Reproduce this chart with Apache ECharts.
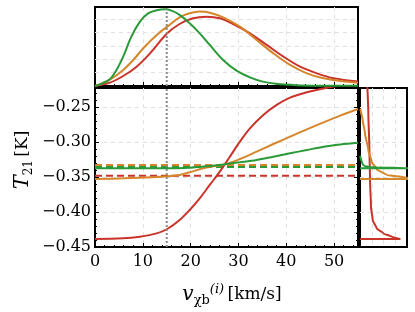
<!DOCTYPE html>
<html><head><meta charset="utf-8">
<script src="https://cdn.jsdelivr.net/npm/echarts@6/dist/echarts.min.js"></script>
<style>html,body{margin:0;padding:0;background:#fff}#c{width:415px;height:312px}</style>
</head><body><div id="c"></div>
<script>
// ---- data ----
const xTickValues = [0, 10, 20, 30, 40, 50];
const yTickLabels = ['−0.45', '−0.40', '−0.35', '−0.30', '−0.25'];
const vLine = 15;
// top panel: distributions (x in km/s, arbitrary height)
const topGreen = [[0,0],[1.5,0.2],[3.1,0.5],[4.5,1.2],[5.9,2.2],[7.6,3.7],[9.4,4.83],[11.1,5.45],[12.9,5.68],[14.6,5.75],[16.0,5.65],[17.7,5.33],[19.8,4.7],[21.9,3.95],[24.0,3.08],[26.8,1.95],[29.6,1.15],[32.4,0.65],[35.1,0.33],[37.9,0.16],[42.1,0.06],[48,0.02],[55,0.01]];
const topOrange = [[0,0],[1.5,0.2],[3.6,0.58],[5.9,1.2],[8.0,1.95],[10.1,2.83],[12.9,3.83],[15.1,4.45],[17.7,5.15],[19.8,5.45],[21.9,5.58],[24.0,5.5],[26.8,5.15],[30.3,4.45],[33.8,3.45],[37.3,2.45],[40.8,1.58],[44.3,0.95],[47.8,0.58],[51.3,0.38],[55,0.25]];
const topRed = [[0,0],[3.1,0.25],[5.9,0.75],[8.7,1.45],[11.5,2.45],[15.1,3.95],[17.7,4.65],[20.5,5.08],[23.3,5.2],[26.1,5.08],[28.9,4.65],[32.4,3.95],[35.9,3.08],[39.4,2.2],[42.9,1.45],[46.4,0.95],[49.9,0.58],[55,0.33]];
// main panel: T21 vs velocity
const mainRed = [[0,-0.4386],[5.9,-0.4376],[9.4,-0.4352],[12.9,-0.4305],[15.1,-0.4243],[17.7,-0.4114],[19.8,-0.3971],[21.9,-0.3805],[24.0,-0.3614],[26.1,-0.3424],[28.2,-0.3210],[30.3,-0.2995],[32.4,-0.2805],[35.2,-0.2614],[38.0,-0.2471],[40.8,-0.2367],[44.3,-0.2290],[47.8,-0.2235],[51.3,-0.2190],[55,-0.2150]];
const mainOrange = [[0,-0.3529],[5.9,-0.3519],[12.9,-0.3500],[15.1,-0.3490],[17.7,-0.3471],[19.8,-0.3433],[22.6,-0.3376],[24.7,-0.3348],[27.2,-0.3319],[30.3,-0.3243],[33.8,-0.3138],[37.3,-0.3029],[40.8,-0.2924],[44.3,-0.2819],[47.8,-0.2719],[51.3,-0.2624],[55,-0.2529]];
const mainGreen = [[0,-0.3376],[5,-0.3376],[10,-0.3376],[15.1,-0.3376],[19.8,-0.3367],[23.3,-0.3348],[26.8,-0.3320],[30.3,-0.3290],[33.8,-0.3257],[37.3,-0.3210],[40.8,-0.3162],[44.3,-0.3114],[47.8,-0.3067],[51.3,-0.3035],[55,-0.3010]];
const dashOrange = -0.3329, dashGreen = -0.3357, dashRed = -0.3481;
// right panel: density (x) vs T21 (y)
const rightRed = [[0,-0.4386],[0.85,-0.4386],[0.674,-0.4353],[0.496,-0.4305],[0.355,-0.4233],[0.27,-0.4114],[0.234,-0.3924],[0.213,-0.3543],[0.199,-0.3067],[0.177,-0.259],[0.156,-0.221]];
const rightOrange = [[0,-0.3529],[1.6,-0.3529],[1.3,-0.3522],[0.99,-0.3510],[0.567,-0.3471],[0.355,-0.3390],[0.248,-0.3281],[0.177,-0.3114],[0.106,-0.2876],[0.057,-0.2686],[0.014,-0.2543],[0,-0.2529]];
const rightGreen = [[0,-0.3376],[1.6,-0.3376],[1.0,-0.3372],[0.4,-0.3365],[0.2,-0.3358],[0.1,-0.3345],[0.06,-0.3320],[0.035,-0.3280],[0.015,-0.3230],[0,-0.3200]];

const C = {green:'#2a9a38', orange:'#d5862a', red:'#c9342a', gray:'#8a8a8a'};
const Y0 = -0.45, Y1 = -0.2229;
const font = 'DejaVu Serif';
const gridLine = {show:true, showMinLine:false, showMaxLine:false, lineStyle:{color:'#e2e2e2', type:[4,4], width:1}};
const tickStyle = {show:true, inside:true, length:4, lineStyle:{color:'#000', width:1}};
const minorStyle = {show:true, splitNumber:5, length:2, lineStyle:{color:'#000', width:1}};

const chart = echarts.init(document.getElementById('c'), null, {renderer:'canvas'});
function line(data, color, xi, yi, extra){
  return Object.assign({type:'line', data, xAxisIndex:xi, yAxisIndex:yi, symbol:'none', smooth:0.35,
    lineStyle:{color, width:2}, z:3, silent:true, animation:false}, extra||{});
}
const option = {
  animation:false,
  backgroundColor:'#fff',
  grid:[
    {left:95, top:7, width:263, height:79, show:true, borderColor:'#000', borderWidth:2, backgroundColor:'#fff'},
    {left:95, top:88, width:263, height:159, show:true, borderColor:'#000', borderWidth:2, backgroundColor:'#fff'},
    {left:360, top:88, width:47, height:159, show:true, borderColor:'#000', borderWidth:2, backgroundColor:'#fff'}
  ],
  xAxis:[
    {gridIndex:0, type:'value', min:0, max:55, interval:10, axisLine:{show:false},
     axisTick:tickStyle, minorTick:minorStyle, axisLabel:{show:false}, splitLine:gridLine},
    {gridIndex:1, type:'value', min:0, max:55, interval:10, axisLine:{show:false},
     axisTick:tickStyle, minorTick:minorStyle,
     axisLabel:{show:true, margin:7, color:'#000', fontFamily:font, fontSize:16, showMaxLabel:false,
       formatter:v => xTickValues.includes(v) ? String(v) : ''},
     splitLine:gridLine},
    {gridIndex:2, type:'value', min:0, max:1, interval:0.25, axisLine:{show:false}, axisTick:{show:false},
     axisLabel:{show:false}, splitLine:gridLine}
  ],
  yAxis:[
    {gridIndex:0, type:'value', min:0, max:5.925, interval:1, axisLine:{show:false}, axisTick:{show:false},
     axisLabel:{show:false}, splitLine:gridLine},
    {gridIndex:1, type:'value', min:Y0, max:Y1, interval:0.05, axisLine:{show:false},
     axisTick:tickStyle, minorTick:minorStyle,
     axisLabel:{show:true, margin:4, color:'#000', fontFamily:font, fontSize:16, showMaxLabel:false,
       formatter:v => { const i = Math.round((v - Y0)/0.05); return (Math.abs(Y0 + i*0.05 - v) < 1e-6 && yTickLabels[i]) ? yTickLabels[i] : ''; }},
     splitLine:gridLine},
    {gridIndex:2, type:'value', min:Y0, max:Y1, interval:0.05, axisLine:{show:false}, axisTick:{show:false},
     axisLabel:{show:false}, splitLine:gridLine},
    {gridIndex:1, type:'value', position:'right', min:Y0, max:Y1, interval:0.05, axisLine:{show:false},
     axisTick:tickStyle, minorTick:minorStyle, axisLabel:{show:false}, splitLine:{show:false}}
  ],
  series:[
    line(topRed, C.red, 0, 0),
    line(topOrange, C.orange, 0, 0),
    line(topGreen, C.green, 0, 0),
    line([[vLine,0],[vLine,5.925]], C.gray, 0, 0, {smooth:false, lineStyle:{color:C.gray, width:2, type:[2,2]}, z:4}),
    line([[0,dashRed],[55,dashRed]], C.red, 1, 1, {smooth:false, lineStyle:{color:C.red, width:2, type:[7,4]}}),
    line([[0,dashGreen],[55,dashGreen]], C.green, 1, 1, {smooth:false, lineStyle:{color:C.green, width:2, type:[7,4]}}),
    line([[0,dashOrange],[55,dashOrange]], C.orange, 1, 1, {smooth:false, lineStyle:{color:C.orange, width:2, type:[7,4]}}),
    line(mainRed, C.red, 1, 1),
    line(mainOrange, C.orange, 1, 1),
    line(mainGreen, C.green, 1, 1),
    line([[vLine,Y0],[vLine,Y1]], C.gray, 1, 1, {smooth:false, lineStyle:{color:C.gray, width:2, type:[2,2]}, z:4}),
    line(rightRed, C.red, 2, 2, {smooth:0.2, smoothMonotone:'y'}),
    line(rightOrange, C.orange, 2, 2, {smooth:0.2, smoothMonotone:'y'}),
    line(rightGreen, C.green, 2, 2, {smooth:0.2, smoothMonotone:'y'})
  ],
  graphic:[
    {type:'text', x:23, y:160, rotation:Math.PI/2, z:10,
     style:{text:'{i|T}{s|21} {n|[K]}', align:'center', verticalAlign:'middle',
       rich:{i:{fontFamily:font, fontStyle:'italic', fontSize:21, lineHeight:24, fill:'#000'},
             s:{fontFamily:font, fontSize:12, verticalAlign:'bottom', lineHeight:15, fill:'#000'},
             n:{fontFamily:font, fontSize:17, lineHeight:24, fill:'#000'}}}},
    {type:'text', x:232, y:295, z:10,
     style:{text:'{i|v}{s|χb}{p|(i)} {n|[km/s]}', align:'center', verticalAlign:'middle',
       rich:{i:{fontFamily:font, fontStyle:'italic', fontSize:20, lineHeight:24, fill:'#000'},
             s:{fontFamily:font, fontSize:13, verticalAlign:'bottom', lineHeight:15, fill:'#000'},
             p:{fontFamily:font, fontSize:13, fontStyle:'italic', verticalAlign:'top', lineHeight:15, fill:'#000'},
             n:{fontFamily:font, fontSize:17, lineHeight:24, fill:'#000'}}}}
  ]
};
chart.setOption(option);
</script></body></html>
